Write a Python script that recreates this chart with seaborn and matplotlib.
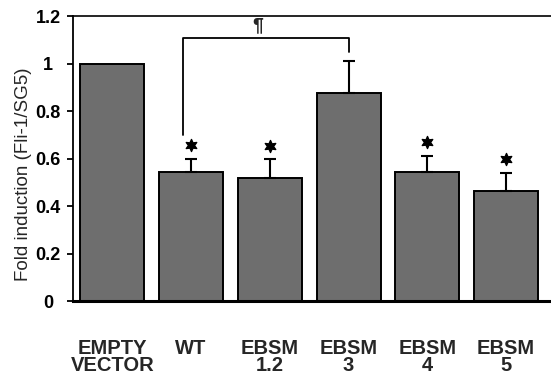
import numpy as np
import pandas as pd
import seaborn as sns
import matplotlib.pyplot as plt

labels = ["EMPTY\nVECTOR", "WT", "EBSM\n1.2", "EBSM\n3", "EBSM\n4", "EBSM\n5"]
fold = [1.0, 0.544, 0.519, 0.874, 0.545, 0.462]
err = [0.0, 0.056, 0.077, 0.137, 0.066, 0.079]
starred = [False, True, True, False, True, True]

df = pd.DataFrame({"construct": labels, "fold": fold, "err": err})

sns.set_theme(style="white")
plt.rcParams["font.family"] = ["Liberation Sans", "DejaVu Sans"]

fig = plt.figure(figsize=(5.51, 3.75), dpi=100)
ax = fig.add_axes([0.1325, 0.1973, 0.8675, 0.76])

sns.barplot(data=df, x="construct", y="fold", color="#6e6e6e", saturation=1,
            width=0.81, edgecolor="black", linewidth=1.4, errorbar=None, ax=ax)

x = np.arange(len(labels))
lower = np.zeros(len(err))
ax.errorbar(x[1:], df["fold"][1:], yerr=[lower[1:], df["err"][1:]], fmt="none",
            ecolor="black", elinewidth=1.5, capsize=4, capthick=1.5)

# significance stars above the error bars
tops = df["fold"] + df["err"]
ax.scatter(x[starred], tops[starred] + 0.058, marker=(6, 1, 0), s=75,
           color="black", zorder=5)

# bracket WT vs EBSM 3
ax.plot([0.9, 0.9, 3.01, 3.01], [0.70, 1.108, 1.108, 1.048], color="black", lw=1.3)
ax.text(1.85, 1.158, "¶", ha="center", va="center", fontsize=14, fontweight="bold")

ax.set_xlim(-0.5, 5.57)
ax.set_ylim(0, 1.2)
ax.set_yticks([0, 0.2, 0.4, 0.6, 0.8, 1.0, 1.2])
ax.set_yticklabels(["0", "0.2", "0.4", "0.6", "0.8", "1", "1.2"],
                   fontweight="bold", fontsize=13, ha="center")
ax.tick_params(axis="y", left=True, length=4, width=1.3, pad=14, colors="black")
ax.tick_params(axis="x", bottom=False, pad=21)
for t in ax.get_xticklabels():
    t.set_fontweight("bold")
    t.set_fontsize(14.5)
    t.set_linespacing(0.88)

ax.set_xlabel("")
ax.set_ylabel("Fold induction (Fli-1/SG5)", fontsize=13.5)
ax.yaxis.set_label_coords(-0.085, 0.446)

ax.spines["right"].set_visible(False)
ax.spines["left"].set_linewidth(1.3)
ax.spines["top"].set_linewidth(1.2)
ax.spines["bottom"].set_linewidth(2.2)
for s in ax.spines.values():
    s.set_color("black")

fig.savefig("out.png", dpi=100)
